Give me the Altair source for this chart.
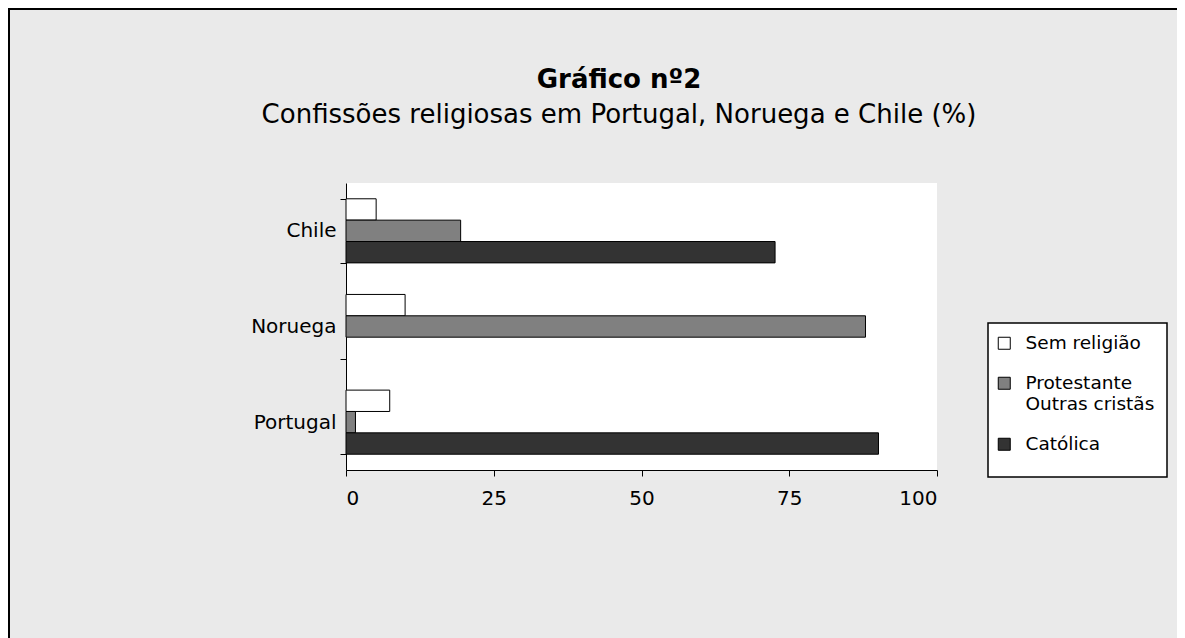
import altair as alt
import pandas as pd

countries = ["Chile", "Noruega", "Portugal"]
series = ["Sem religião", "Protestante Outras cristãs", "Católica"]
sem_religiao = [5.1, 10.0, 7.4]
protestante = [19.4, 87.9, 1.6]
catolica = [72.6, 0.0, 90.1]
colors = ["#FFFFFF", "#808080", "#333333"]
title_text = "Gráfico nº2"
subtitle_text = "Confissões religiosas em Portugal, Noruega e Chile (%)"

rows = []
for i, c in enumerate(countries):
    for s, vals in zip(series, [sem_religiao, protestante, catolica]):
        rows.append({"country": c, "series": s, "value": vals[i]})
df = pd.DataFrame(rows)

FONT = "DejaVu Sans"

bars = alt.Chart(df).transform_filter("datum.value > 0").mark_bar(
    stroke="black", strokeWidth=1
).encode(
    y=alt.Y("country:N", sort=countries, title=None,
            scale=alt.Scale(domain=countries, paddingInner=0.33, paddingOuter=0.165),
            axis=alt.Axis(tickBand="extent", labelFontSize=20, labelPadding=4,
                          domainColor="black", tickColor="black", labelColor="black",
                          tickSize=6, labelFont=FONT)),
    yOffset=alt.YOffset("series:N", sort=series, scale=alt.Scale(domain=series)),
    x=alt.X("value:Q", title=None,
            scale=alt.Scale(domain=[0, 100], nice=False),
            axis=alt.Axis(values=[0, 25, 50, 75, 100], grid=False, labelFontSize=20,
                          labelPadding=12, domainColor="black", tickColor="black",
                          labelColor="black", tickSize=6, labelFont=FONT)),
    color=alt.Color("series:N", sort=series,
                    scale=alt.Scale(domain=series, range=colors),
                    legend=alt.Legend(
                        title=None, orient="none", legendX=649, legendY=151,
                        symbolType="square", symbolSize=144,
                        symbolStrokeColor="black", symbolStrokeWidth=1,
                        labelFontSize=18.5, labelFont=FONT, labelColor="black",
                        labelExpr="datum.label == 'Protestante Outras cristãs' ? ['Protestante', 'Outras cristãs'] : datum.label",
                        padding=0, rowPadding=21, labelLimit=300, labelOffset=12,
                        labelBaseline="middle")),
)

one = pd.DataFrame({"k": [0]})

legend_box = alt.Chart(one).mark_rect(
    fill="white", stroke="black", strokeWidth=1.5
).encode(x=alt.value(642), x2=alt.value(821), y=alt.value(140), y2=alt.value(294))

border_left = alt.Chart(one).mark_rule(color="black", strokeWidth=2).encode(
    x=alt.value(-337), y=alt.value(-174), y2=alt.value(600))
border_top = alt.Chart(one).mark_rule(color="black", strokeWidth=2).encode(
    x=alt.value(-338), x2=alt.value(900), y=alt.value(-174))

title = alt.Chart(pd.DataFrame({"t": [title_text]})).mark_text(
    font=FONT, fontSize=26, fontWeight="bold", color="black",
    align="center", baseline="alphabetic"
).encode(text="t:N", x=alt.value(273), y=alt.value(-95))

subtitle = alt.Chart(pd.DataFrame({"t": [subtitle_text]})).mark_text(
    font=FONT, fontSize=26, color="black",
    align="center", baseline="alphabetic"
).encode(text="t:N", x=alt.value(273), y=alt.value(-60))

chart = alt.layer(border_left, border_top, legend_box, bars, title, subtitle).properties(
    width=591,
    height=287,
    padding={"left": 338, "top": 175, "right": 240, "bottom": 168},
    autosize=alt.AutoSizeParams(type="none"),
    background="#EAEAEA",
).configure_view(fill="white", stroke=None)

chart.save("out.html", embed_options={"renderer": "svg", "actions": False})
